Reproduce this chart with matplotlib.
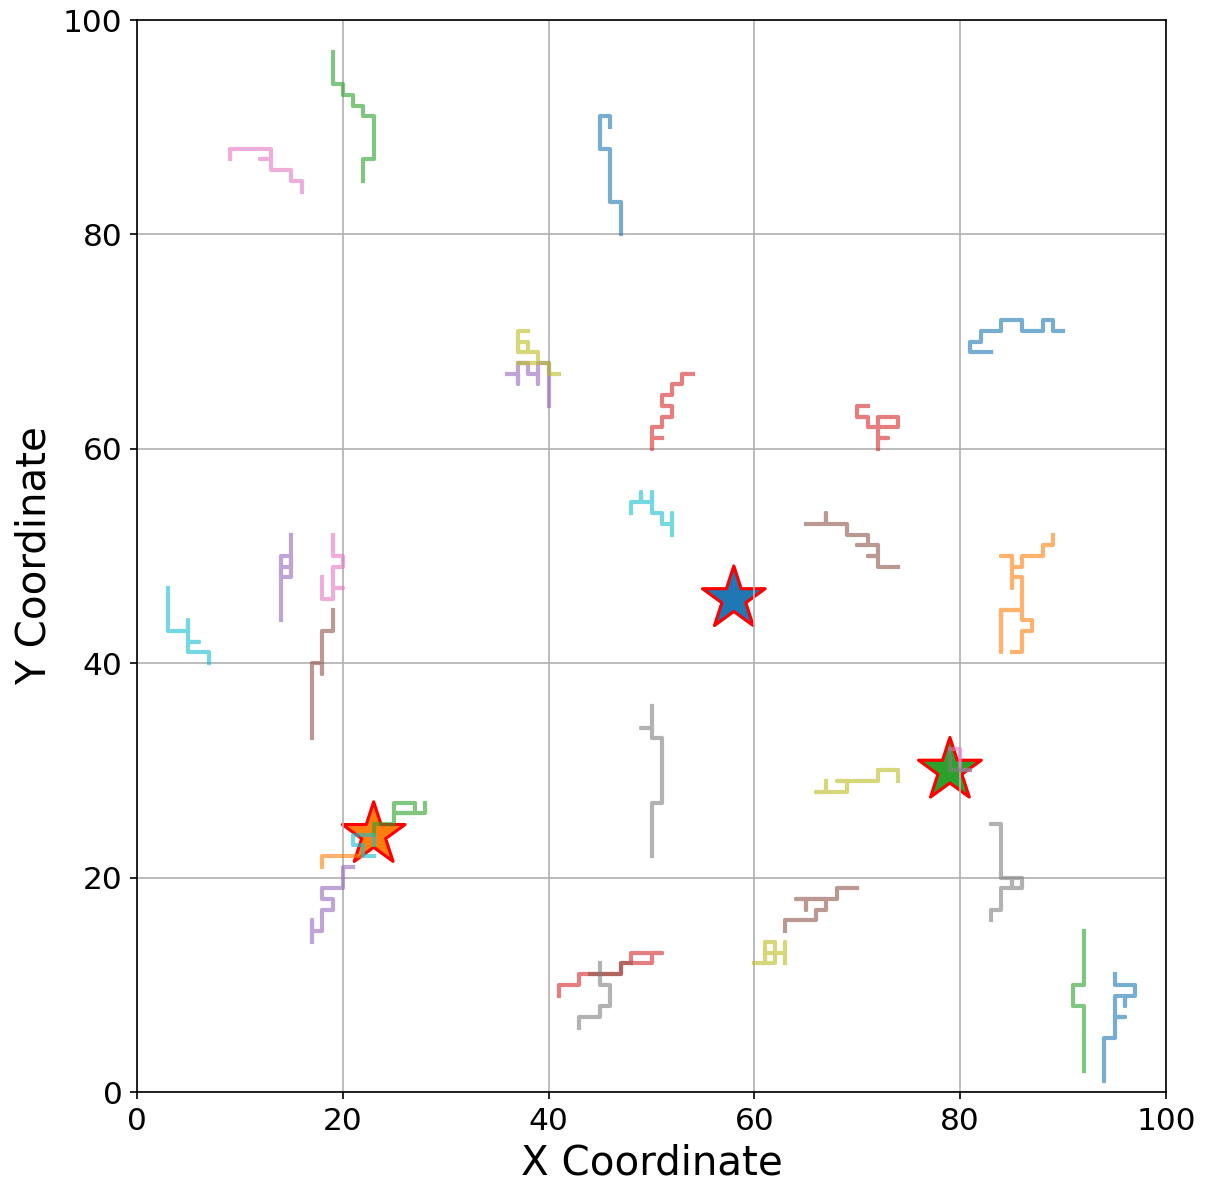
import matplotlib
matplotlib.use("Agg")
import matplotlib.pyplot as plt

# ---- walk paths (data coordinates of vertices) ----
blue_1 = [(46, 90), (46, 91), (45, 91), (45, 88), (46, 88), (46, 83), (47, 83), (47, 80)]
blue_2 = [(83, 69), (81, 69), (81, 70), (82, 70), (82, 71), (84, 71), (84, 72), (86, 72),
          (86, 71), (88, 71), (88, 72), (89, 72), (89, 71), (90, 71)]
blue_3 = [(95, 11), (95, 10), (97, 10), (97, 9), (96, 9), (96, 8), (96, 9), (95, 9), (95, 7),
          (96, 7), (95, 7), (95, 5), (94, 5), (94, 1)]

orange_1 = [(89, 52), (89, 51), (88, 51), (88, 50), (86, 50), (86, 49), (85, 49), (85, 50),
            (84, 50), (85, 50), (85, 47), (85, 48), (86, 48), (86, 45), (84, 45), (84, 41),
            (84, 45), (86, 45), (86, 44), (87, 44), (87, 43), (86, 43), (86, 41), (85, 41)]
orange_2 = [(18, 21), (18, 22), (22, 22), (22, 23), (23, 23), (23, 24)]

green_1 = [(19, 97), (19, 94), (20, 94), (20, 93), (21, 93), (21, 92), (22, 92), (22, 91),
           (23, 91), (23, 87), (22, 87), (22, 85)]
green_2 = [(23, 24), (23, 25), (25, 25), (25, 27), (27, 27), (27, 26), (25, 26), (28, 26), (28, 27)]
green_3 = [(92, 15), (92, 10), (91, 10), (91, 8), (92, 8), (92, 2)]

red_1 = [(51, 61), (50, 61), (50, 60), (50, 62), (51, 62), (51, 63), (52, 63), (52, 64), (51, 64),
         (51, 65), (52, 65), (52, 66), (53, 66), (53, 67), (54, 67)]
red_2 = [(71, 64), (70, 64), (70, 63), (71, 63), (71, 62), (74, 62), (74, 63), (72, 63), (72, 61),
         (73, 61), (72, 61), (72, 60)]
red_3 = [(41, 9), (41, 10), (43, 10), (43, 11), (47, 11), (47, 12), (50, 12), (50, 13), (51, 13),
         (48, 13), (48, 12)]

purple_1 = [(36, 67), (37, 67), (37, 66), (37, 68), (38, 68), (38, 67), (39, 67), (39, 66),
            (39, 68), (40, 68), (40, 64)]
purple_2 = [(15, 52), (15, 48), (14, 48), (14, 50), (15, 50), (15, 49), (14, 49), (14, 44)]
purple_3 = [(21, 21), (20, 21), (20, 19), (18, 19), (18, 18), (19, 18), (19, 17), (18, 17),
            (18, 15), (17, 15), (17, 16), (17, 14)]

brown_1 = [(65, 53), (67, 53), (67, 54), (67, 53), (69, 53), (69, 52), (71, 52), (71, 51),
           (70, 51), (72, 51), (72, 50), (71, 50), (72, 50), (72, 49), (74, 49)]
brown_2 = [(19, 45), (19, 43), (18, 43), (18, 39), (18, 40), (17, 40), (17, 33)]
brown_3 = [(63, 15), (63, 16), (66, 16), (66, 17), (67, 17), (67, 18), (64, 18), (65, 18),
           (65, 17), (65, 18), (68, 18), (68, 19), (70, 19)]
brown_4 = [(44, 11), (47, 11), (47, 12), (48, 12)]

pink_1 = [(9, 87), (9, 88), (13, 88), (13, 87), (12, 87), (13, 87), (13, 86), (15, 86),
          (15, 85), (16, 85), (16, 84)]
pink_2 = [(19, 52), (19, 50), (20, 50), (20, 49), (19, 49), (19, 47), (20, 47), (19, 47),
          (19, 46), (18, 46), (18, 48)]
pink_3 = [(79, 32), (80, 32), (80, 30), (81, 30)]

gray_1 = [(50, 36), (50, 34), (49, 34), (50, 34), (50, 33), (51, 33), (51, 27), (50, 27), (50, 22)]
gray_2 = [(45, 12), (45, 10), (46, 10), (46, 8), (45, 8), (45, 7), (43, 7), (43, 6)]
gray_3 = [(79, 32), (79, 30), (81, 30)]
gray_4 = [(83, 25), (84, 25), (84, 20), (86, 20), (86, 19), (85, 19), (85, 20), (85, 19),
          (84, 19), (84, 17), (83, 17), (83, 16)]

olive_1 = [(38, 71), (37, 71), (37, 69), (38, 69), (38, 70), (37, 70), (37, 69), (39, 69),
           (39, 68), (37, 68), (40, 68), (40, 67), (41, 67)]
olive_2 = [(67, 29), (67, 28), (66, 28), (69, 28), (69, 29), (68, 29), (72, 29), (72, 30),
           (74, 30), (74, 29)]
olive_3 = [(60, 12), (62, 12), (62, 14), (61, 14), (61, 12), (61, 13), (63, 13), (63, 14), (63, 12)]

cyan_1 = [(3, 47), (3, 43), (5, 43), (5, 44), (5, 42), (6, 42), (5, 42), (5, 41), (7, 41), (7, 40)]
cyan_2 = [(48, 54), (48, 55), (49, 55), (49, 56), (49, 55), (50, 55), (50, 56), (50, 54), (51, 54),
          (51, 53), (52, 53), (52, 54), (52, 52)]
cyan_3 = [(23, 22), (22, 22), (22, 23), (21, 23), (21, 24), (23, 24), (23, 23)]

# ---- star markers ----
star_x = [58, 23, 79]
star_y = [46, 24, 30]
star_colors = ["tab:blue", "tab:orange", "tab:green"]

walks = [
    (blue_1, "tab:blue"), (blue_2, "tab:blue"), (blue_3, "tab:blue"),
    (orange_1, "tab:orange"), (orange_2, "tab:orange"),
    (green_1, "tab:green"), (green_2, "tab:green"), (green_3, "tab:green"),
    (red_1, "tab:red"), (red_2, "tab:red"), (red_3, "tab:red"),
    (purple_1, "tab:purple"), (purple_2, "tab:purple"), (purple_3, "tab:purple"),
    (brown_1, "tab:brown"), (brown_2, "tab:brown"), (brown_3, "tab:brown"), (brown_4, "tab:brown"),
    (pink_1, "tab:pink"), (pink_2, "tab:pink"), (pink_3, "tab:pink"),
    (gray_1, "tab:gray"), (gray_2, "tab:gray"), (gray_3, "tab:gray"), (gray_4, "tab:gray"),
    (olive_1, "tab:olive"), (olive_2, "tab:olive"), (olive_3, "tab:olive"),
    (cyan_1, "tab:cyan"), (cyan_2, "tab:cyan"), (cyan_3, "tab:cyan"),
]

fig = plt.figure(figsize=(1207 / 150, 1194 / 150), dpi=150)
ax = fig.add_axes([137 / 1207, 102 / 1194, (1166 - 137) / 1207, (1092 - 20) / 1194])

ax.scatter(star_x, star_y, marker="*", s=1000, c=star_colors, edgecolors="red", linewidths=1.5)

for path, color in walks:
    xs = [p[0] for p in path]
    ys = [p[1] for p in path]
    ax.plot(xs, ys, color=color, alpha=0.6, linewidth=2)

ax.set_xlim(0, 100)
ax.set_ylim(0, 100)
ax.set_xticks([0, 20, 40, 60, 80, 100])
ax.set_yticks([0, 20, 40, 60, 80, 100])
ax.tick_params(labelsize=15)
ax.set_xlabel("X Coordinate", fontsize=19.4)
ax.set_ylabel("Y Coordinate", fontsize=19.4)
ax.grid(True)

fig.savefig("out.png", dpi=150)
